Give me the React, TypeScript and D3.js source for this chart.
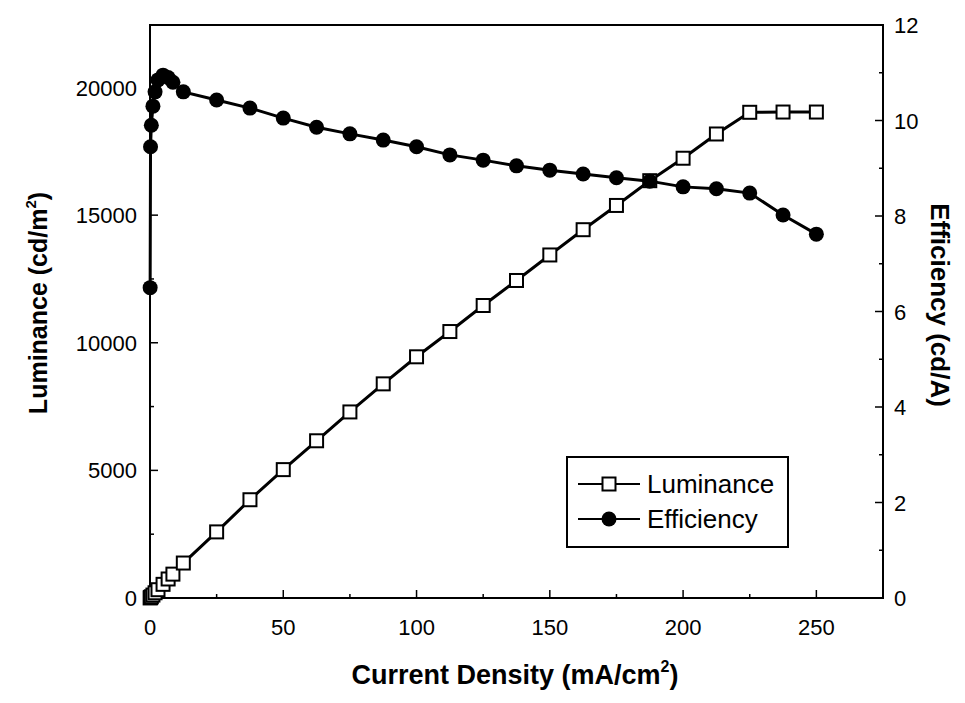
import * as d3 from "d3";

const W = 965, H = 703;
const L = 150, R = 883, T = 25, B = 598;

// current density (mA/cm2) for every measured point
const current = [0.05, 0.2, 0.5, 1.1, 1.9, 3.0, 4.9, 6.8, 8.6, 12.5, 25, 37.5, 50, 62.5, 75, 87.5, 100, 112.5, 125, 137.5, 150, 162.5, 175, 187.5, 200, 212.5, 225, 237.5, 250];
// luminance (cd/m2)
const luminance = [3, 18, 48, 115, 205, 325, 535, 745, 935, 1370, 2590, 3850, 5030, 6160, 7290, 8390, 9450, 10440, 11460, 12440, 13440, 14430, 15380, 16350, 17230, 18180, 19030, 19040, 19040];
// efficiency (cd/A)
const efficiency = [6.5, 9.45, 9.9, 10.3, 10.6, 10.85, 10.95, 10.9, 10.8, 10.6, 10.43, 10.26, 10.05, 9.86, 9.72, 9.59, 9.45, 9.28, 9.17, 9.05, 8.96, 8.88, 8.8, 8.73, 8.61, 8.57, 8.48, 8.02, 7.62];

const xTicks = [0, 50, 100, 150, 200, 250];
const xMinor = [25, 75, 125, 175, 225, 275];
const yLTicks = [0, 5000, 10000, 15000, 20000];
const yLMinor = [2500, 7500, 12500, 17500];
const yRTicks = [0, 2, 4, 6, 8, 10, 12];
const yRMinor = [1, 3, 5, 7, 9, 11];

const FONT = "'Liberation Sans', Arial, sans-serif";

export default function App() {
  const x = d3.scaleLinear([0, 275], [L, R]);
  const yL = d3.scaleLinear([0, 22450], [B, T]);
  const yR = d3.scaleLinear([0, 12], [B, T]);

  const lumLine = d3.line<number>().x((_, i) => x(current[i])).y((v) => yL(v));
  const effLine = d3.line<number>().x((_, i) => x(current[i])).y((v) => yR(v));

  const sq = 13;

  return (
    <svg width={W} height={H} style={{ position: "absolute", left: 0, top: 0, background: "#fff" }}
      fontFamily={FONT}>
      {/* frame */}
      <rect x={L} y={T} width={R - L} height={B - T} fill="none" stroke="#000" strokeWidth={2} />

      {/* bottom axis */}
      {xTicks.map((t) => (
        <g key={"x" + t}>
          <line x1={x(t)} x2={x(t)} y1={B} y2={B - 8} stroke="#000" strokeWidth={1.5} />
          <text x={x(t)} y={635} fontSize={22} textAnchor="middle">{t}</text>
        </g>
      ))}
      {xMinor.map((t) => (
        <line key={"xm" + t} x1={x(t)} x2={x(t)} y1={B} y2={B - 4} stroke="#000" strokeWidth={1.5} />
      ))}

      {/* left axis */}
      {yLTicks.map((t) => (
        <g key={"l" + t}>
          <line x1={L} x2={L + 8} y1={yL(t)} y2={yL(t)} stroke="#000" strokeWidth={1.5} />
          <text x={137} y={yL(t) + 8} fontSize={22} textAnchor="end">{t}</text>
        </g>
      ))}
      {yLMinor.map((t) => (
        <line key={"lm" + t} x1={L} x2={L + 4} y1={yL(t)} y2={yL(t)} stroke="#000" strokeWidth={1.5} />
      ))}

      {/* right axis */}
      {yRTicks.map((t) => (
        <g key={"r" + t}>
          <line x1={R} x2={R - 8} y1={yR(t)} y2={yR(t)} stroke="#000" strokeWidth={1.5} />
          <text x={894} y={yR(t) + 8} fontSize={22} textAnchor="start">{t}</text>
        </g>
      ))}
      {yRMinor.map((t) => (
        <line key={"rm" + t} x1={R} x2={R - 4} y1={yR(t)} y2={yR(t)} stroke="#000" strokeWidth={1.5} />
      ))}

      {/* axis titles */}
      <text transform="translate(47,303) rotate(-90)" fontSize={25} fontWeight="bold" textAnchor="middle">
        Luminance (cd/m<tspan dy={-11} fontSize={15}>2</tspan><tspan dy={11}>)</tspan>
      </text>
      <text transform="translate(931,305) rotate(90)" fontSize={26} fontWeight="bold" textAnchor="middle">
        Efficiency (cd/A)
      </text>
      <text x={515} y={684} fontSize={27} fontWeight="bold" textAnchor="middle">
        Current Density (mA/cm<tspan dy={-12} fontSize={16}>2</tspan><tspan dy={12}>)</tspan>
      </text>

      {/* luminance series */}
      <path d={lumLine(luminance) ?? ""} fill="none" stroke="#000" strokeWidth={3} />
      {luminance.map((v, i) => (
        <rect key={"s" + i} x={x(current[i]) - sq / 2} y={yL(v) - sq / 2} width={sq} height={sq}
          fill="#fff" stroke="#000" strokeWidth={2} />
      ))}

      {/* efficiency series */}
      <path d={effLine(efficiency) ?? ""} fill="none" stroke="#000" strokeWidth={3} />
      {efficiency.map((v, i) => (
        <circle key={"c" + i} cx={x(current[i])} cy={yR(v)} r={7.5} fill="#000" />
      ))}

      {/* legend */}
      <rect x={567} y={457} width={221} height={90} fill="#fff" stroke="#000" strokeWidth={2} />
      <line x1={578} x2={640} y1={484} y2={484} stroke="#000" strokeWidth={2} />
      <rect x={609 - 6.5} y={484 - 6.5} width={13} height={13} fill="#fff" stroke="#000" strokeWidth={2} />
      <text x={647} y={493} fontSize={26}>Luminance</text>
      <line x1={578} x2={640} y1={519} y2={519} stroke="#000" strokeWidth={2} />
      <circle cx={609} cy={519} r={7.5} fill="#000" />
      <text x={647} y={528} fontSize={26}>Efficiency</text>
    </svg>
  );
}
